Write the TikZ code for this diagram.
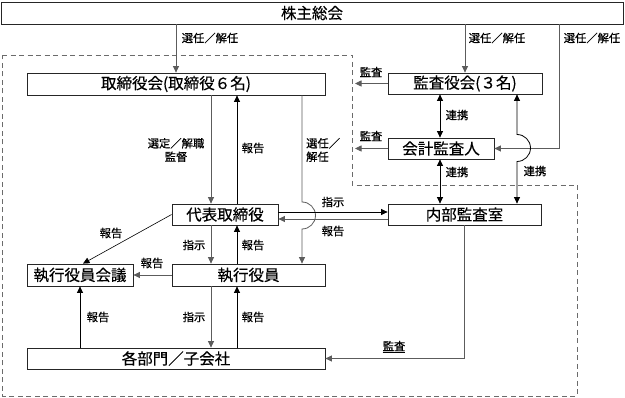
\documentclass[tikz,border=0pt]{standalone}
\usepackage{fontspec}
\setmainfont{Noto Sans CJK JP}
\newfontfamily\boxfont[FakeBold=0.4]{Noto Sans CJK JP}
\newfontfamily\lblfont[FakeBold=0.6]{Noto Sans CJK JP}
\usetikzlibrary{arrows.meta,calc}
\definecolor{gline}{gray}{0.36}
\definecolor{bline}{gray}{0.15}
\definecolor{dline}{gray}{0.42}
\tikzset{
  box/.style={draw=bline, line width=0.8pt, inner sep=0pt, font=\boxfont\fontsize{15.5}{17}\selectfont},
  lbl/.style={inner sep=0pt, font=\lblfont\fontsize{11.3}{13.5}\selectfont},
  tip/.style={-{Triangle[length=6.5pt,width=6pt]}},
  dtip/.style={{Triangle[length=6.5pt,width=6pt]}-{Triangle[length=6.5pt,width=6pt]}},
  conn/.style={line width=0.8pt, draw=black},
  gconn/.style={line width=0.8pt, draw=gline},
  region/.style={dashed, dash pattern=on 5pt off 3.5pt, draw=dline, line width=0.8pt}
}
\begin{document}
\begin{tikzpicture}[x=1pt,y=-1pt]
\useasboundingbox (0,0) rectangle (625,398);
\fill[white] (0,0) rectangle (625,398);
% region
\draw[region] (2,55) -- (352,55) -- (352,185) -- (577,185) -- (577,396) -- (2,396) -- cycle;
% boxes
\node[box, minimum width=622, minimum height=22] (sh) at (312,13) {株主総会};
\node[box, minimum width=298, minimum height=22] (tb) at (176,84) {取締役会(取締役６名)};
\node[box, minimum width=154, minimum height=21] (ka) at (465,83.5) {監査役会(３名)};
\node[box, minimum width=106, minimum height=21] (kk) at (441,148.5) {会計監査人};
\node[box, minimum width=106, minimum height=21] (dh) at (225,214.5) {代表取締役};
\node[box, minimum width=153, minimum height=21] (nb) at (464.5,214.5) {内部監査室};
\node[box, minimum width=106, minimum height=22] (sk) at (80,275) {執行役員会議};
\node[box, minimum width=153, minimum height=22] (sy) at (248.5,275) {執行役員};
\node[box, minimum width=298, minimum height=21] (bm) at (176,358.5) {各部門／子会社};
% helper coordinates
\coordinate (c211) at (211,0);
\coordinate (c237) at (237,0);
\coordinate (c302) at (302,0);
\coordinate (c355) at (355,0);
\coordinate (c440) at (440,0);
\coordinate (c517) at (517,0);
\coordinate (c559) at (559,0);
\coordinate (y212) at (0,212);
\coordinate (y219) at (0,219);
% shareholders
\draw[gconn, tip] (sh.south -| tb.north) -- (tb.north);
\draw[gconn, tip] (sh.south -| ka.north) -- (ka.north);
\draw[gconn, tip] (sh.south -| c559) |- (kk.east);
\node[lbl] (l1) at (210,38) {選任／解任};
\node[lbl] (l2) at (497,38) {選任／解任};
\node[lbl] (l3) at (592,38) {選任／解任};
% audit arrows
\draw[gconn, tip] (ka.west) -- (ka.west -| c355);
\draw[gconn, tip] (kk.west) -- (kk.west -| c355);
\node[lbl] (l4) at (371,72) {監査};
\node[lbl] (l5) at (371,136) {監査};
% cooperation
\draw[conn, dtip] (ka.south -| c440) -- (kk.north -| c440);
\draw[conn, dtip] (kk.south -| c440) -- (nb.north -| c440);
\node[lbl] (l6) at (457,115) {連携};
\node[lbl] (l7) at (457,172) {連携};
\draw[conn, dtip] (nb.north -| c517) -- (517,161.5)
  .. controls (524.46,161.5) and (530.5,155.46) .. (530.5,148)
  .. controls (530.5,140.54) and (524.46,134.5) .. (517,134.5)
  -- (ka.south -| c517);
\node[lbl] (l8) at (535,171) {連携};
% board -> representative
\draw[gconn, tip] (tb.south -| c211) -- (dh.north -| c211);
\draw[conn, tip] (dh.north -| c237) -- (tb.south -| c237);
\node[lbl, align=center] (l9) at (176,150) {選定／解職\\監督};
\node[lbl] (l10) at (253,148) {報告};
\draw[gconn, tip] (tb.south -| c302) -- (302,202)
  .. controls (309.46,202) and (315.5,208.04) .. (315.5,215.5)
  .. controls (315.5,222.96) and (309.46,229) .. (302,229)
  -- (sy.north -| c302);
\node[lbl, align=left, anchor=west] (l11) at (306,150) {選任／\\解任};
% representative <-> internal audit
\draw[conn, tip] (dh.east |- y212) -- (nb.west |- y212);
\draw[gconn, tip] (nb.west |- y219) -- (dh.east |- y219);
\node[lbl] (l12) at (333,202) {指示};
\node[lbl] (l13) at (333,231) {報告};
% representative -> exec meeting
\draw[conn, tip, line width=0.6pt] (dh.west) -- ($(sk.north)+(3,0)$);
\node[lbl] (l14) at (111,233) {報告};
% representative <-> executives
\draw[gconn, tip] (dh.south -| c211) -- (sy.north -| c211);
\draw[conn, tip] (sy.north -| c237) -- (dh.south -| c237);
\node[lbl] (l15) at (194,245) {指示};
\node[lbl] (l16) at (253,245) {報告};
% executives -> exec meeting
\draw[gconn, tip] (sy.west) -- (sk.east);
\node[lbl] (l17) at (152,263) {報告};
% executives <-> departments
\draw[gconn, tip] (sy.south -| c211) -- (bm.north -| c211);
\draw[conn, tip] (bm.north -| c237) -- (sy.south -| c237);
\node[lbl] (l18) at (194,317) {指示};
\node[lbl] (l19) at (253,317) {報告};
% departments -> exec meeting
\draw[conn, tip] (bm.north -| sk.south) -- (sk.south);
\node[lbl] (l20) at (98,317) {報告};
% internal audit -> departments
\draw[gconn, tip] (nb.south) |- (bm.east);
\node[lbl] (l21) at (394,347) {\underline{監査}};
\end{tikzpicture}
\end{document}
